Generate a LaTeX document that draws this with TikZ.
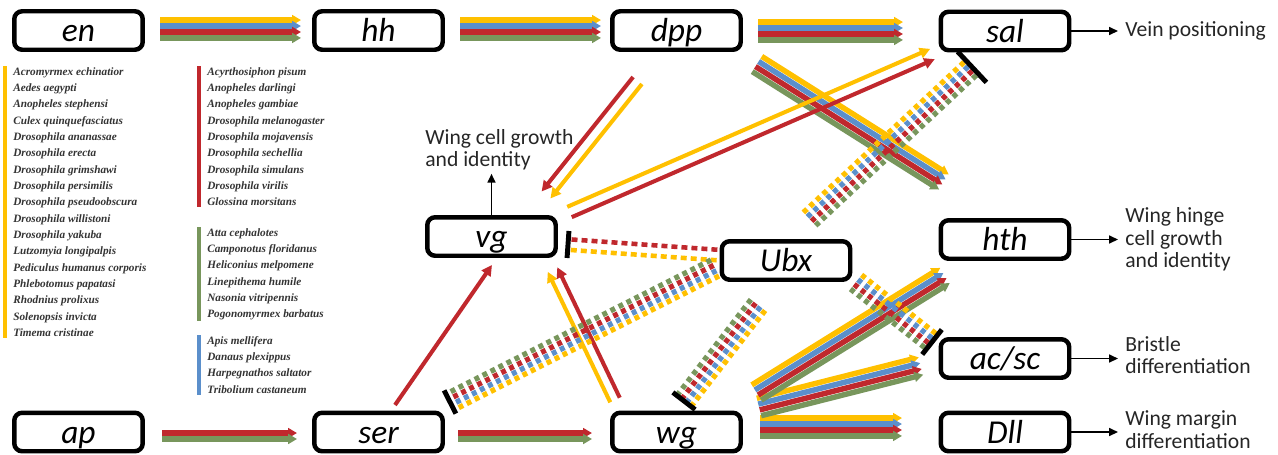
\documentclass[tikz,border=0pt]{standalone}
\usepackage{fontspec}
\setmainfont{Carlito}
\newfontfamily\legfont{Liberation Serif}
\usetikzlibrary{arrows.meta,calc}

\definecolor{gyel}{HTML}{FFC000}
\definecolor{gblu}{HTML}{5B8FCB}
\definecolor{gred}{HTML}{C0282D}
\definecolor{ggrn}{HTML}{78965C}

\tikzset{
  gene/.style={draw=black, line width=2.55pt, rounded corners=4.5pt,
    minimum width=2.57cm, minimum height=0.77cm, inner sep=0pt,
    text height=14pt, text depth=1pt, font=\fontsize{19}{19}\selectfont\itshape},
  fate/.style={align=left, inner sep=0pt, text=black!85,
    font=\fontsize{12.3}{12.75}\selectfont},
  species/.style={align=left, inner xsep=0pt, inner ysep=0.5pt, text=black!80,
    font=\legfont\bfseries\itshape\fontsize{6.4}{9.3}\selectfont},
  legbar/.style={line width=2.3pt},
  bund/.style={line width=3.1pt, -{Triangle[length=5pt,width=5.5pt]}},
  dbund/.style={line width=3pt, dash pattern=on 2.8pt off 2.3pt},
  sarr/.style={line width=2.3pt, -{Triangle[length=6pt,width=6pt]}},
  outarr/.style={line width=0.9pt, -{Triangle[length=5pt,width=4.5pt]}, shorten >=4pt},
  tbarline/.style={line width=2.8pt, black}
}

% strands of one connector, drawn parallel
\newcommand{\fourfold}[3][]{%
  \foreach \c/\o in {gyel/5.1pt,gblu/1.7pt,gred/-1.7pt,ggrn/-5.1pt}
    \draw[#1,\c] ($(#2)!\o!90:(#3)$) -- ($(#3)!\o!-90:(#2)$);}
\newcommand{\twofold}[6][]{%
  \draw[#1,#4] ($(#2)!#6!90:(#3)$) -- ($(#3)!#6!-90:(#2)$);
  \draw[#1,#5] ($(#2)!-#6!90:(#3)$) -- ($(#3)!-#6!-90:(#2)$);}
\newcommand{\blockbar}[3]{%
  \draw[tbarline] ($(#1)!#3!90:(#2)$) -- ($(#1)!#3!-90:(#2)$);}

\begin{document}
\begin{tikzpicture}[x=0.02cm, y=-0.02cm]
  \useasboundingbox (0,0) rectangle (1278,454);

  % genes
  \node[gene] (en)   at (  78.5, 30.5) {en};
  \node[gene] (hh)   at ( 378.5, 30.5) {hh};
  \node[gene] (dpp)  at ( 676.5, 30.5) {dpp};
  \node[gene] (sal)  at (1005.0, 31.0) {sal};
  \node[gene] (vg)   at ( 491.5,236.5) {vg};
  \node[gene] (Ubx)  at ( 786.0,260.5) {Ubx};
  \node[gene] (hth)  at (1005.0,239.5) {hth};
  \node[gene] (acsc) at (1005.0,358.5) {ac/sc};
  \node[gene] (Dll)  at (1005.0,432.0) {Dll};
  \node[gene] (ap)   at (  78.5,432.0) {ap};
  \node[gene] (ser)  at ( 378.5,432.0) {ser};
  \node[gene] (wg)   at ( 676.5,432.0) {wg};

  % fates
  \node[fate, anchor=west] (lvein)    at (1125, 31.0) {Vein positioning};
  \node[fate, anchor=west] (lhinge)   at (1125,239.5) {Wing hinge\\cell growth\\and identity};
  \node[fate, anchor=west] (lbristle) at (1125,355.0) {Bristle\\differentiation};
  \node[fate, anchor=west] (lmargin)  at (1125,429.5) {Wing margin\\differentiation};
  \node[fate, anchor=west] (lwing)    at ( 425,149.5) {Wing cell growth\\and identity};

  \draw[outarr] (sal.east) -- (sal.east -| lvein.west);
  \draw[outarr] (hth.east) -- (hth.east -| lhinge.west);
  \draw[outarr] (acsc.east) -- (acsc.east -| lbristle.west);
  \draw[outarr] (Dll.east) -- (Dll.east -| lmargin.west);
  \draw[outarr, shorten >=2pt] (vg.north) -- (vg.north |- lwing.south);

  % species
  \node[species, anchor=north west] (syel) at (13,66) {Acromyrmex echinatior\\Aedes aegypti\\Anopheles stephensi\\Culex quinquefasciatus\\Drosophila ananassae\\Drosophila erecta\\Drosophila grimshawi\\Drosophila persimilis\\Drosophila pseudoobscura\\Drosophila willistoni\\Drosophila yakuba\\Lutzomyia longipalpis\\Pediculus humanus corporis\\Phlebotomus papatasi\\Rhodnius prolixus\\Solenopsis invicta\\Timema cristinae};
  \node[species, anchor=north west] (sred) at (207,66) {Acyrthosiphon pisum\\Anopheles darlingi\\Anopheles gambiae\\Drosophila melanogaster\\Drosophila mojavensis\\Drosophila sechellia\\Drosophila simulans\\Drosophila virilis\\Glossina morsitans};
  \node[species, anchor=north west] (sgrn) at (207,227) {Atta cephalotes\\Camponotus floridanus\\Heliconius melpomene\\Linepithema humile\\Nasonia vitripennis\\Pogonomyrmex barbatus};
  \node[species, anchor=north west] (sblu) at (207,335) {Apis mellifera\\Danaus plexippus\\Harpegnathos saltator\\Tribolium castaneum};

  \draw[legbar, gyel] ($(syel.north west)+(-8,0)$) -- ($(syel.south west)+(-8,0)$);
  \draw[legbar, gred] ($(sred.north west)+(-8,0)$) -- ($(sred.south west)+(-8,0)$);
  \draw[legbar, ggrn] ($(sgrn.north west)+(-8,0)$) -- ($(sgrn.south west)+(-8,0)$);
  \draw[legbar, gblu] ($(sblu.north west)+(-8,0)$) -- ($(sblu.south west)+(-8,0)$);

  % connector ends
  \coordinate (en2hh-s)    at (160,29);    \coordinate (en2hh-t)    at (301,29);
  \coordinate (hh2dpp-s)   at (460,29);    \coordinate (hh2dpp-t)   at (601,29);
  \coordinate (dpp2sal-s)  at (758,31);    \coordinate (dpp2sal-t)  at (903,31);
  \coordinate (ap2ser-s)   at (162,436);   \coordinate (ap2ser-t)   at (297,436);
  \coordinate (ser2wg-s)   at (458,436);   \coordinate (ser2wg-t)   at (592,436);
  \coordinate (wg2dll-s)   at (760,427);   \coordinate (wg2dll-t)   at (902,427);
  \coordinate (wg2acsc-s)  at (759,407);   \coordinate (wg2acsc-t)  at (921,366);
  \coordinate (wg2hth-s)   at (756.5,392.5); \coordinate (wg2hth-t) at (945,275.5);
  \coordinate (dpp2hth-s)  at (757,64);    \coordinate (dpp2hth-t)  at (944,182);
  \coordinate (dpp2vg-s)   at (637.5,80.5); \coordinate (dpp2vg-t)  at (546,195);
  \coordinate (vg2sal-s)   at (569.5,212); \coordinate (vg2sal-t)   at (932.5,54);
  \coordinate (ser2vg-s)   at (395,405);   \coordinate (ser2vg-t)   at (492,265);
  \coordinate (wg2vg-s)    at (615,400);   \coordinate (wg2vg-t)    at (552.5,269.5);
  \coordinate (ubx2vg-s)   at (717,255);   \coordinate (ubx2vg-t)   at (568,244.5);
  \coordinate (ubx2sal-s)  at (809.5,219); \coordinate (ubx2sal-t)  at (972,67);
  \coordinate (ubx2ser-s)  at (715,268);   \coordinate (ubx2ser-t)  at (450,402);
  \coordinate (ubx2wg-s)   at (758,305);   \coordinate (ubx2wg-t)   at (684,401);
  \coordinate (ubx2acsc-s) at (856,282);   \coordinate (ubx2acsc-t) at (932,342);

  % activation
  \fourfold[bund]{en2hh-s}{en2hh-t}
  \fourfold[bund]{hh2dpp-s}{hh2dpp-t}
  \fourfold[bund]{dpp2sal-s}{dpp2sal-t}
  \fourfold[bund]{wg2dll-s}{wg2dll-t}
  \fourfold[bund]{wg2acsc-s}{wg2acsc-t}
  \fourfold[bund]{wg2hth-s}{wg2hth-t}
  \fourfold[bund]{dpp2hth-s}{dpp2hth-t}
  \twofold[bund]{ap2ser-s}{ap2ser-t}{gred}{ggrn}{1.7pt}
  \twofold[bund]{ser2wg-s}{ser2wg-t}{gred}{ggrn}{1.7pt}
  \twofold[sarr]{dpp2vg-s}{dpp2vg-t}{gyel}{gred}{3.2pt}
  \twofold[sarr]{vg2sal-s}{vg2sal-t}{gyel}{gred}{3.2pt}
  \twofold[sarr]{wg2vg-s}{wg2vg-t}{gyel}{gred}{3pt}
  \draw[sarr, gred] (ser2vg-s) -- (ser2vg-t);

  % repression by Ubx
  \twofold[dbund, line width=2.6pt, dash pattern=on 3.4pt off 2.3pt]{ubx2vg-s}{ubx2vg-t}{gyel}{gred}{3pt}
  \fourfold[dbund]{ubx2sal-s}{ubx2sal-t}
  \fourfold[dbund]{ubx2ser-s}{ubx2ser-t}
  \fourfold[dbund]{ubx2wg-s}{ubx2wg-t}
  \fourfold[dbund]{ubx2acsc-s}{ubx2acsc-t}
  \blockbar{ubx2vg-t}{ubx2vg-s}{7.7pt}
  \blockbar{ubx2sal-t}{ubx2sal-s}{12pt}
  \blockbar{ubx2ser-t}{ubx2ser-s}{7.4pt}
  \blockbar{ubx2wg-t}{ubx2wg-s}{8pt}
  \blockbar{ubx2acsc-t}{ubx2acsc-s}{9pt}
\end{tikzpicture}
\end{document}
